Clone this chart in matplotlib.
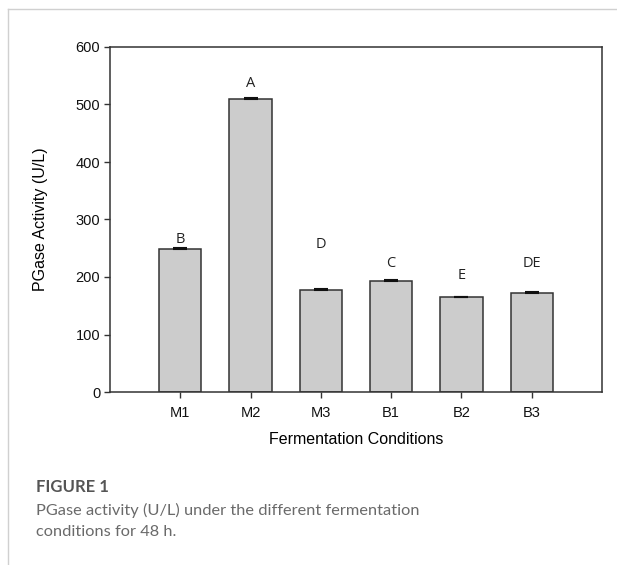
import matplotlib.pyplot as plt
from matplotlib.lines import Line2D

# data
conditions = ["M1", "M2", "M3", "B1", "B2", "B3"]
activity = [248, 510, 177, 193, 165, 172]
errors = [2, 2, 1.5, 2, 1, 2]
letters = ["B", "A", "D", "C", "E", "DE"]
letter_y = [266, 536, 256, 224, 203, 223]

fig = plt.figure(figsize=(6.17, 5.65), dpi=100)
ax = fig.add_axes([110 / 617, 173 / 565, 492 / 617, 345 / 565])

x = list(range(len(conditions)))
ax.bar(x, activity, width=0.6, color="#cccccc", edgecolor="#333333", linewidth=1.1, zorder=2)
ax.errorbar(x, activity, yerr=[[0] * len(errors), errors], fmt="none",
            ecolor="#111111", elinewidth=1, capsize=5, capthick=1.5, zorder=3)

for xi, lab, yy in zip(x, letters, letter_y):
    ax.text(xi, yy, lab, ha="center", va="center", fontsize=10.5,
            family="Open Sans", color="#222222")

ax.set_xlim(-1.0, 6.0)
ax.set_ylim(0, 600)
ax.set_yticks([0, 100, 200, 300, 400, 500, 600])
ax.set_xticks(x)
ax.set_xticklabels(conditions)
ax.tick_params(direction="out", length=4, width=1, color="#333333",
               labelsize=10.5, labelcolor="#111111")
ax.tick_params(axis="x", pad=6)
ax.tick_params(axis="y", pad=3)
for lab in ax.get_xticklabels() + ax.get_yticklabels():
    lab.set_family("Liberation Sans")
for s in ax.spines.values():
    s.set_color("#333333")
    s.set_linewidth(1.1)

ax.set_xlabel("Fermentation Conditions", fontsize=11.5, family="Liberation Sans", labelpad=9)
ax.set_ylabel("PGase Activity (U/L)", fontsize=11.5, family="Liberation Sans", labelpad=20)

# page frame lines
fig.add_artist(Line2D([8 / 617, 1], [1 - 9 / 565, 1 - 9 / 565], color="#d0d0d0", lw=1))
fig.add_artist(Line2D([8 / 617, 8 / 617], [0, 1 - 9 / 565], color="#d0d0d0", lw=1))

# caption
fig.text(36 / 617, 1 - 487 / 565, "FIGURE 1", fontsize=12, fontweight="bold",
         family="Lato", color="#555555", va="center")
fig.text(36 / 617, 1 - 510 / 565, "PGase activity (U/L) under the different fermentation",
         fontsize=11.8, family="Lato", color="#6a6a6a", va="center")
fig.text(36 / 617, 1 - 532 / 565, "conditions for 48 h.",
         fontsize=11.8, family="Lato", color="#6a6a6a", va="center")

fig.savefig("out.png", dpi=100)
